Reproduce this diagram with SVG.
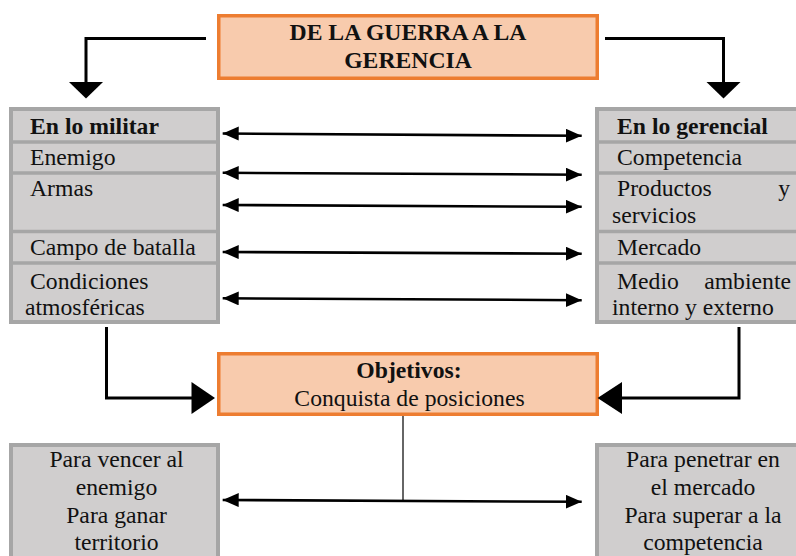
<svg xmlns="http://www.w3.org/2000/svg" width="796" height="556" viewBox="0 0 796 556">
<defs>
<style>
text{font-family:"Liberation Serif","Times New Roman",serif;font-size:23.7px;fill:#111;}
.b{font-weight:bold;}
.c{text-anchor:middle;}
.e{text-anchor:end;}
.orange{fill:#F8CBAD;stroke:#ED7D31;stroke-width:3.5;}
.gray{fill:#D0CECE;stroke:#A6A6A6;stroke-width:4;}
.div{stroke:#A6A6A6;stroke-width:3.5;}
.thick{fill:none;stroke:#000;stroke-width:3;}
.thin{fill:none;stroke:#000;stroke-width:2.6;}
</style>
<marker id="ah" markerUnits="userSpaceOnUse" markerWidth="17" markerHeight="15" refX="16" refY="7" orient="auto-start-reverse" viewBox="0 0 17 15">
<path d="M0,0 L16,7 L0,14 z" fill="#000"/>
</marker>
</defs>

<g id="node-title">
<rect class="orange" x="218.75" y="15.75" width="378.5" height="62.5"/>
<text class="b c" x="408" y="40">DE LA GUERRA A LA</text>
<text class="b c" x="408" y="68">GERENCIA</text>
</g>

<g id="node-militar">
<rect class="gray" x="11" y="109" width="207" height="213"/>
<line class="div" x1="11" y1="142" x2="218" y2="142"/>
<line class="div" x1="11" y1="173" x2="218" y2="173"/>
<line class="div" x1="11" y1="231.5" x2="218" y2="231.5"/>
<line class="div" x1="11" y1="263" x2="218" y2="263"/>
<text class="b" x="30" y="134">En lo militar</text>
<text x="30" y="165">Enemigo</text>
<text x="30" y="196">Armas</text>
<text x="30" y="255">Campo de batalla</text>
<text x="30" y="289">Condiciones</text>
<text x="25" y="315">atmosféricas</text>
</g>

<g id="node-gerencial">
<rect class="gray" x="597" y="109" width="212" height="213"/>
<line class="div" x1="597" y1="142" x2="796" y2="142"/>
<line class="div" x1="597" y1="173" x2="796" y2="173"/>
<line class="div" x1="597" y1="231.5" x2="796" y2="231.5"/>
<line class="div" x1="597" y1="263" x2="796" y2="263"/>
<text class="b" x="617" y="134">En lo gerencial</text>
<text x="617" y="165">Competencia</text>
<text x="617" y="196">Productos</text>
<text class="e" x="790" y="196">y</text>
<text x="612" y="223">servicios</text>
<text x="617" y="255">Mercado</text>
<text x="617" y="289">Medio</text>
<text class="e" x="791" y="289">ambiente</text>
<text x="612" y="315">interno y externo</text>
</g>

<g id="node-objetivos">
<rect class="orange" x="218.75" y="353.75" width="378.5" height="60.5"/>
<text class="b c" x="409" y="378">Objetivos:</text>
<text class="c" x="409.5" y="406">Conquista de posiciones</text>
</g>

<g id="node-militar-fin">
<rect class="gray" x="11" y="445" width="207" height="120"/>
<text class="c" x="116.5" y="467">Para vencer al</text>
<text class="c" x="116.5" y="495">enemigo</text>
<text class="c" x="116.5" y="523">Para ganar</text>
<text class="c" x="116.5" y="550">territorio</text>
</g>

<g id="node-gerencial-fin">
<rect class="gray" x="597" y="445" width="212" height="120"/>
<text class="c" x="703" y="467">Para penetrar en</text>
<text class="c" x="703" y="495">el mercado</text>
<text class="c" x="703" y="523">Para superar a la</text>
<text class="c" x="703" y="550">competencia</text>
</g>

<g id="connectors">
<polyline class="thick" points="206,38.5 86,38.5 86,83"/>
<polygon points="69,82 103,82 86,98.5" fill="#000"/>
<polyline class="thick" points="605,38.5 723.5,38.5 723.5,83"/>
<polygon points="706.5,82 740.5,82 723.5,98.5" fill="#000"/>

<polyline class="thick" points="106.5,327 106.5,398 193,398"/>
<polygon points="191.5,382 191.5,414 215,398" fill="#000"/>
<polyline class="thick" points="739,327 739,398 620,398"/>
<polygon points="622,382 622,414 597.5,398" fill="#000"/>

<line class="thin" x1="222.7" y1="133.5" x2="581.7" y2="135.8" marker-start="url(#ah)" marker-end="url(#ah)"/>
<line class="thin" x1="222.7" y1="172.8" x2="581.7" y2="174.7" marker-start="url(#ah)" marker-end="url(#ah)"/>
<line class="thin" x1="222.7" y1="205" x2="581.7" y2="206.8" marker-start="url(#ah)" marker-end="url(#ah)"/>
<line class="thin" x1="222.7" y1="252" x2="581.7" y2="253.7" marker-start="url(#ah)" marker-end="url(#ah)"/>
<line class="thin" x1="222.7" y1="298.3" x2="581.7" y2="300.2" marker-start="url(#ah)" marker-end="url(#ah)"/>
<line x1="403" y1="416" x2="403" y2="500.8" stroke="#333" stroke-width="1.5"/>
<line class="thin" x1="222.7" y1="500" x2="581.7" y2="501.8" marker-start="url(#ah)" marker-end="url(#ah)"/>
</g>
</svg>
